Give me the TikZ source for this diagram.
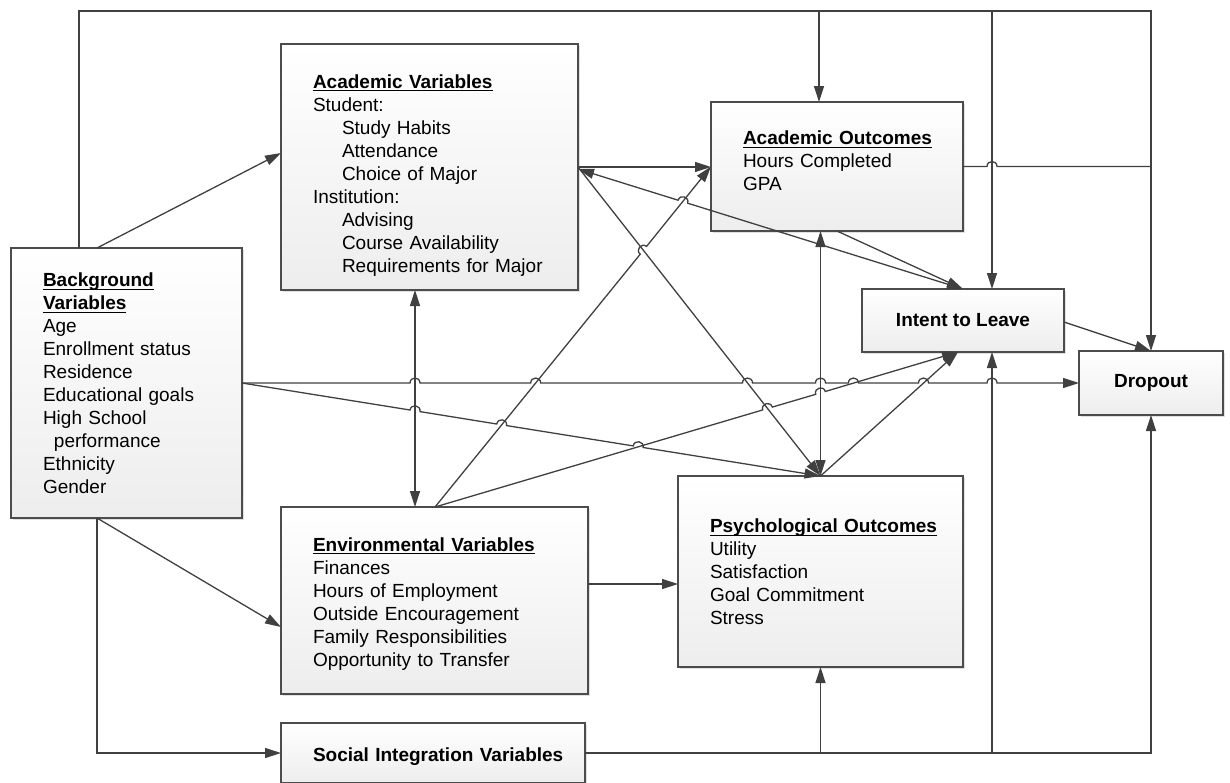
\documentclass[tikz,border=0pt]{standalone}
\usepackage{amsmath}
\usepackage{fontspec}
\setmainfont{Liberation Sans}
\usetikzlibrary{calc}
\usetikzlibrary{shadows}
\usetikzlibrary{arrows.meta}
\newcommand{\ttl}[1]{\underline{\smash[b]{\textbf{#1}}}}
\newcommand{\ind}{\hspace*{14.5pt}}
\newcommand{\jr}{2.5pt}
% line jump: crossing point, towards start, towards end
\newcommand{\jump}[3]{-- ($(#1)!\jr!(#2)$) to[bend left=90,looseness=1.7] ($(#1)!\jr!(#3)$)}
\tikzset{
    varbox/.style = {rectangle, draw=black!70, line width=0.6pt, top color=white, bottom color=black!7,
        drop shadow={shadow xshift=1pt,shadow yshift=-1pt,fill=black!12,opacity=1},
        align=left, inner xsep=16pt, inner ysep=0pt, outer sep=0pt, font=\fontsize{9.5}{11.5}\selectfont},
    endbox/.style = {varbox, align=center, inner xsep=0pt, font=\fontsize{9.5}{11.5}\selectfont\bfseries},
    link/.style = {draw=black!75, line width=0.65pt, -{Triangle[length=8pt,width=5pt]}},
    linkb/.style = {link, {Triangle[length=8pt,width=5pt]}-{Triangle[length=8pt,width=5pt]}},
    linkn/.style = {draw=black!75, line width=0.65pt},
}

\begin{document}
\begin{tikzpicture}[x=0.5pt,y=-0.5pt]
\useasboundingbox (0,0) rectangle (1230,782);
%
\node[varbox, text width=83.5pt, minimum height=135pt] at (126.5,383) (bg) {\ttl{Background}\\ \ttl{Variables}\\ Age\\ Enrollment status\\ Residence\\ Educational goals\\ High School\\ \hspace*{5.5pt}performance\\ Ethnicity\\ Gender};
\node[varbox, text width=116.5pt, minimum height=123pt] at (429.5,167) (av) {\rule{0pt}{15pt}\ttl{Academic Variables}\\ Student:\\ \ind Study Habits\\ \ind Attendance\\ \ind Choice of Major\\ Institution:\\ \ind Advising\\ \ind Course Availability\\ \ind Requirements for Major};
\node[varbox, text width=94pt, minimum height=64.5pt] at (837,166.5) (ao) {\ttl{Academic Outcomes}\\ Hours Completed\\ GPA\rule[-6pt]{0pt}{6pt}};
\node[endbox, minimum width=101pt, minimum height=31.5pt] at (963,320.5) (il) {Intent to Leave};
\node[endbox, minimum width=72pt, minimum height=32pt] at (1151,383) (do) {Dropout};
\node[varbox, text width=121.5pt, minimum height=93.5pt] at (434.5,600.5) (env) {\rule{0pt}{10pt}\ttl{Environmental Variables}\\ Finances\\ Hours of Employment\\ Outside Encouragement\\ Family Responsibilities\\ Opportunity to Transfer};
\node[varbox, text width=110.5pt, minimum height=95.5pt] at (820.5,571.5) (psy) {\ttl{Psychological Outcomes}\\ Utility\\ Satisfaction\\ Goal Commitment\\ Stress};
\node[varbox, text width=120pt, minimum height=30pt] at (433,753) (soc) {\rule{0pt}{10pt}\mbox{\bfseries Social Integration Variables}};
%
\coordinate (bgA) at (bg.north -| 79,0);
\coordinate (bgB) at (bg.north -| 97,0);
\coordinate (bgC) at (bg.south -| 97,0);
\coordinate (avL) at (av.west |- 0,153);
\coordinate (avB) at (av.south -| 415,0);
\coordinate (avR) at (av.east |- 0,169);
\coordinate (envT) at (env.north -| 415,0);
\coordinate (envT2) at (env.north -| 435,0);
\coordinate (envL) at (env.west |- 0,627);
\coordinate (aoT) at (ao.north -| 819,0);
\coordinate (aoB) at (ao.south -| psy.north);
\coordinate (aoJ) at (do.north |- ao.east);
\coordinate (ilT) at (il.north -| 992,0);
\coordinate (ilB) at (il.south -| 992,0);
\coordinate (ilB2) at (il.south -| 958,0);
\coordinate (topR) at (819,11);
\coordinate (topM) at (992,11);
%
\draw[link] (bgA) |- (819,11) -- (aoT);
\draw[link] (topR) -| (do.north);
\draw[link] (topM) -- (ilT);
\draw[link] (bgB) -- (avL);
\draw[link] (bgC) -- (envL);
\draw[link] (bgC) |- (soc.west);
\draw[link] (bg.east) \jump{415,383}{bg.east}{do.west} \jump{535.7,383}{bg.east}{do.west}
    \jump{747.5,383}{bg.east}{do.west} \jump{820.5,383}{bg.east}{do.west} \jump{853.4,383}{bg.east}{do.west}
    \jump{923.5,383}{bg.east}{do.west} \jump{992,383}{bg.east}{do.west} -- (do.west);
\draw[link] (bg.east) \jump{415,410.8}{bg.east}{psy.north} \jump{501.7,424.8}{bg.east}{psy.north}
    \jump{638.2,446.7}{bg.east}{psy.north} -- (psy.north);
%
\draw[linkb] (avB) -- (envT);
\draw[link] (av.east) -- (ao.west |- av.east);
\draw[link] (av.east) -- (psy.north);
\draw[linkb] (avR) \jump{682.9,201.7}{avR}{il.north} -- (il.north);
\draw[link] (ao.south) -- (il.north);
\draw[linkb] (aoB) -- (psy.north);
\draw[linkn] (ao.east) \jump{992,166.5}{ao.east}{aoJ} -- (aoJ);
%
\draw[link] (envT2) \jump{643.4,250.3}{envT2}{ao.west} -- (ao.west);
\draw[link] (envT2) \jump{767.5,408.5}{envT2}{ilB2} \jump{820.5,392.9}{envT2}{ilB2} -- (ilB2);
\draw[link] (env.east |- 0,584) -- (psy.west |- 0,584);
\draw[link] (psy.north) -- (ilB2);
\draw[link] (il.east |- 0,322) -- (do.north);
%
\draw[link] (soc.east) -| (do.south);
\draw[link] (soc.east -| psy.south) -- (psy.south);
\draw[link] (soc.east -| ilB) -- (ilB);
\end{tikzpicture}
\end{document}
